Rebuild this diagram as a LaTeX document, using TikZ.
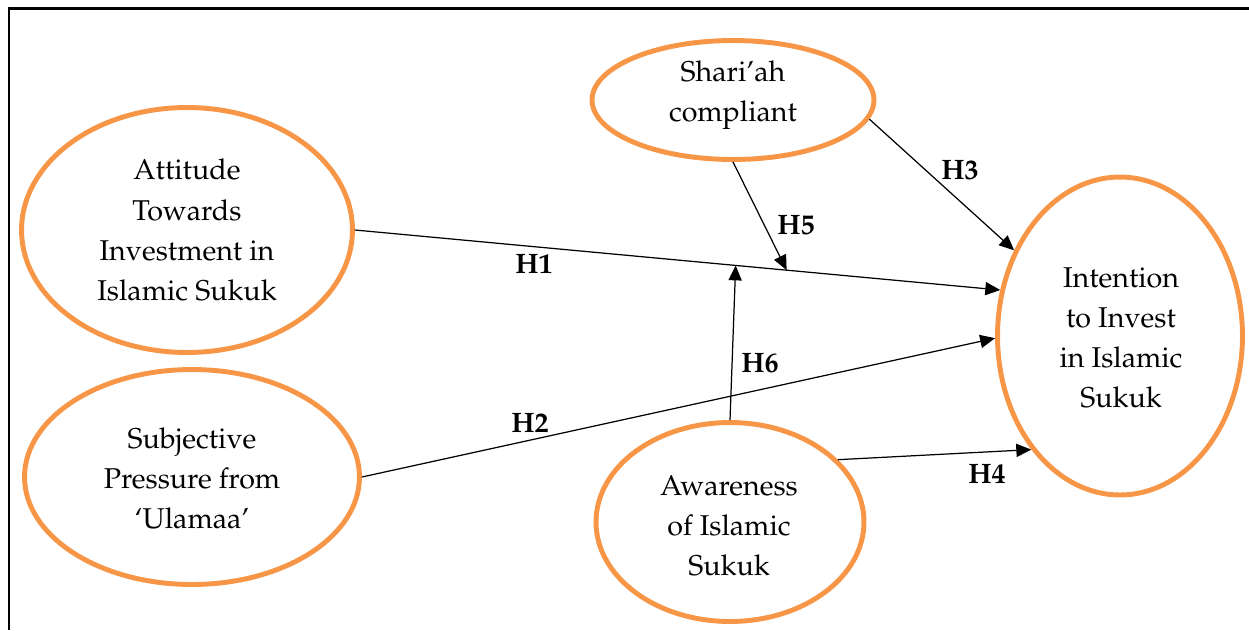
\documentclass[tikz,border=0pt]{standalone}
\usepackage[T1]{fontenc}
\usepackage{mathpazo}
\usetikzlibrary{shapes.geometric,arrows.meta}
\definecolor{orng}{HTML}{F79646}
\tikzset{
  oval/.style={ellipse, draw=orng, line width=2.8pt, inner sep=0pt},
  txt/.style={align=center, font=\fontsize{16.3}{22.8}\selectfont, inner sep=0pt},
  arr/.style={draw=black, line width=0.7pt, -{Triangle[length=8.5pt,width=7.5pt]}},
  hlab/.style={font=\fontsize{16}{19}\selectfont\bfseries, inner sep=0pt},
  frame/.style={line width=1.7pt}
}
\begin{document}
\begin{tikzpicture}[x=0.02cm,y=-0.02cm]
\useasboundingbox (0,0) rectangle (1249,630);
\coordinate (fa) at (9,630);
\coordinate (fb) at (9,8);
\coordinate (fc) at (1249,8);
\draw[frame] (fa) -- (fb) -- (fc);

\node[oval, minimum width=6.62cm, minimum height=4.9cm] (att) at (187,230) {};
\node[oval, minimum width=6.7cm, minimum height=4.3cm] (sub) at (192,477) {};
\node[oval, minimum width=5.64cm, minimum height=2.38cm] (sha) at (733,100) {};
\node[oval, minimum width=5.36cm, minimum height=3.98cm] (awa) at (730,522) {};
\node[oval, minimum width=4.9cm, minimum height=6.36cm] (int) at (1120,336) {};

\node[txt] (tatt) at (187,230) {Attitude\\Towards\\Investment in\\Islamic Sukuk};
\node[txt] (tsub) at (192,478) {Subjective\\Pressure from\\`Ulamaa'};
\node[txt] (tsha) at (733,95) {Shari'ah\\compliant};
\node[txt] (tawa) at (729,526) {Awareness\\of Islamic\\Sukuk};
\node[txt] (tint) at (1121,338) {Intention\\to Invest\\in Islamic\\Sukuk};

\draw[arr] (att.east) -- (int.159) coordinate[pos=0.59] (m6) coordinate[pos=0.669] (m5);
\draw[arr] (sub.east) -- (int.181);
\draw[arr] (sha.352) -- (int.141.6);
\draw[arr] (awa.30) -- (int.232.6);
\draw[arr] (sha.south) -- (m5);
\draw[arr] (awa.north) -- (m6);

\node[hlab] (h1) at (534,264) {H1};
\node[hlab] (h2) at (530,423) {H2};
\node[hlab] (h3) at (960,170) {H3};
\node[hlab] (h4) at (987,474) {H4};
\node[hlab] (h5) at (796,225) {H5};
\node[hlab] (h6) at (760,363) {H6};
\end{tikzpicture}
\end{document}
